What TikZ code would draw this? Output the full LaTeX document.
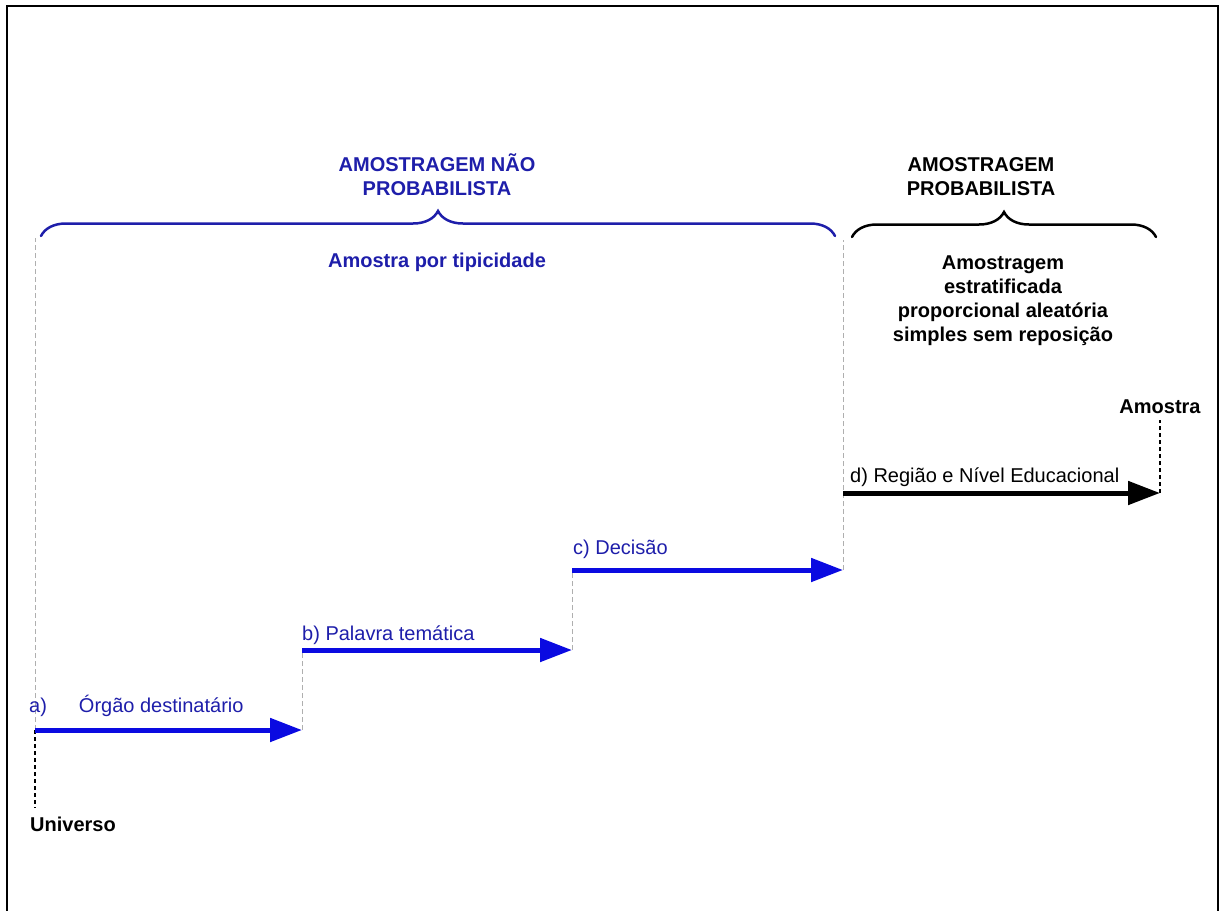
\documentclass[tikz,border=0pt]{standalone}
\usepackage{fontspec}
\setmainfont{Liberation Sans}
\usetikzlibrary{arrows.meta,decorations.pathreplacing}
\definecolor{stepblue}{RGB}{10,10,225}
\definecolor{textblue}{RGB}{30,30,170}
\definecolor{guidegray}{RGB}{175,175,175}
\begin{document}
\begin{tikzpicture}[x=1pt, y=-1pt,
    lbl/.style = {font=\fontsize{20}{24}\selectfont, inner sep=0pt},
    head/.style = {lbl, font=\fontsize{20}{24}\selectfont\bfseries, align=center},
    stage/.style = {line width=5pt, -{Triangle[length=32pt, width=23pt]}},
    guide/.style = {guidegray, line width=0.8pt, dash pattern=on 5pt off 3pt},
    endline/.style = {black, line width=1.2pt, dash pattern=on 4pt off 3pt},
    brc/.style = {line width=2.5pt, line cap=round, decorate, decoration={brace, amplitude=25pt}}]
  \useasboundingbox (0,0) rectangle (1220,910);
  \draw[line width=2.5pt] (7,920) -- (7,6) -- (1218,6) -- (1218,920);

  % steps
  \coordinate (u) at (35,730);
  \coordinate (p1) at (302,730);
  \coordinate (q1) at (302,650);
  \coordinate (p2) at (572,650);
  \coordinate (q2) at (572,570);
  \coordinate (p3) at (843,570);
  \coordinate (q3) at (843,493);
  \coordinate (am) at (1160,493);
  \coordinate (g0) at (35,238);
  \coordinate (g3) at (843,240);
  \coordinate (ue) at (35,808);
  \coordinate (ae) at (1160,420);

  \draw[guide] (u) -- (g0);
  \draw[guide] (p1) -- (q1);
  \draw[guide] (p2) -- (q2);
  \draw[guide] (p3) -- (g3);
  \draw[endline] (u) -- (ue);
  \draw[endline] (am) -- (ae);

  \draw[stage, stepblue] (u) -- (p1);
  \draw[stage, stepblue] (q1) -- (p2);
  \draw[stage, stepblue] (q2) -- (p3);
  \draw[stage, black] (q3) -- (am);

  \node[lbl, textblue, anchor=base west] (la) at (29,712) {a)\hspace{32pt}Órgão destinatário};
  \node[lbl, textblue, anchor=base west] (lb) at (302,640) {b) Palavra temática};
  \node[lbl, textblue, anchor=base west] (lc) at (573,554) {c) Decisão};
  \node[lbl, anchor=base west] (ld) at (850,482) {d) Região e Nível Educacional};
  \node[head, anchor=base west] (univ) at (30,831) {Universo};
  \node[head, anchor=base] (amo) at (1160,413) {Amostra};

  % braces
  \coordinate (bl1) at (41,236);
  \coordinate (br1) at (835,236);
  \coordinate (bl2) at (852,237);
  \coordinate (br2) at (1156,237);
  \draw[brc, textblue] (bl1) -- (br1);
  \draw[brc, black] (bl2) -- (br2);

  \node[head, textblue, anchor=base] (nprob) at (437,195) {AMOSTRAGEM NÃO\\PROBABILISTA};
  \node[head, textblue, anchor=base] (tip) at (437,267) {Amostra por tipicidade};
  \node[head, anchor=base] (prob) at (981,195) {AMOSTRAGEM\\PROBABILISTA};
  \node[head, anchor=base] (estr) at (1003,341) {Amostragem\\estratificada\\proporcional aleatória\\simples sem reposição};
\end{tikzpicture}
\end{document}
